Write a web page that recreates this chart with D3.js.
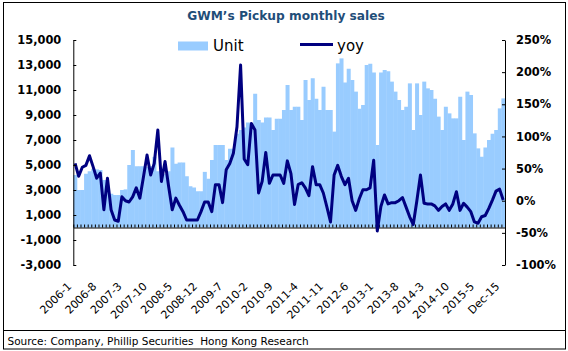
<!DOCTYPE html>
<html>
<head>
<meta charset="utf-8">
<script src="https://cdn.jsdelivr.net/npm/d3@7"></script>
<style>
    body { margin: 0; background: #fff; }
    svg { display: block; }
    text { font-family: "DejaVu Sans", Verdana, sans-serif; }
</style>
</head>
<body>
<div id="chart"></div>
<script>
// monthly pickup sales (units), 2006-1 .. 2015-12
var units = [
    4200, 3000, 3000, 4300, 4500, 4700, 4650, 4600, 3800, 3000, 2700, 2600,
    2600, 3000, 3050, 5000, 6200, 4900, 4900, 4900, 4850, 4900, 5650, 4500,
    4300, 4300, 4500, 6400, 5100, 5200, 5200, 4100, 3300, 3200, 2900, 2900,
    4450, 3900, 5400, 6600, 6600, 6600, 5400, 6300, 6300, 7500, 7800, 8000,
    8400, 8200, 10700, 8600, 8400, 8800, 8800, 7800, 8700, 8700, 9400, 11400,
    9400, 9660, 9660, 8600, 11800, 10200, 11940, 10300, 9400, 11260, 9400, 9400,
    7670, 13130, 13530, 11600, 12700, 11800, 10870, 9500, 9800, 13000, 13100, 12400,
    6600, 12400, 12600, 12500, 11670, 10870, 10200, 9400, 9660, 11530, 7800, 11530,
    9000, 11670, 11130, 11000, 10300, 8870, 7800, 9660, 9130, 8730, 8730, 10460,
    7000, 10870, 10600, 7530, 6330, 5660, 6400, 7000, 7500, 7800, 9530, 10330
]
// year on year growth (%)
var yoy = [
    58, 38, 52, 55, 70, 53, 35, 43, -14, 35, -14, -30,
    -32, 6, 0, -2, 6, 20, 4, 37, 71, 40, 58, 110,
    30, 61, 22, -14, 4, -7, -17, -30, -30, -30, -30, -17,
    -2, -2, -17, 25, 25, -3, 48, 58, 74, 115, 211, 65,
    56, 120, 110, 12, 30, 75, 27, 40, 40, 40, 27, 62,
    42, -6, 25, 28, 20, 8, 53, 25, 25, 12, -10, -33,
    40, 55, 38, 25, 35, 0, -15, 3, 17, 17, 20, 63,
    -47, -9, 9, -5, -3, -3, 0, 5, -10, -25, -37, 0,
    40, -4, -5, -5, -8, -15, -9, -5, -15, -5, 14, -15,
    -4, -10, -17, -33, -35, -25, -23, -12, 1, 15, 18, 1
]
var tickLabels = ['2006-1', '2006-8', '2007-3', '2007-10', '2008-5', '2008-12', '2009-7', '2010-2', '2010-9',
    '2011-4', '2011-11', '2012-6', '2013-1', '2013-8', '2014-3', '2014-10', '2015-5', 'Dec-15']
var tickIndex = [0, 7, 14, 21, 28, 35, 42, 49, 56, 63, 70, 77, 84, 91, 98, 105, 112, 119]
var leftTicks = [-3000, -1000, 1000, 3000, 5000, 7000, 9000, 11000, 13000, 15000]
var rightTicks = [-100, -50, 0, 50, 100, 150, 200, 250]

const plot = { left: 73.3, right: 505, top: 40, bottom: 265 }

var svg = d3.select('#chart').append('svg')
    .attr('width', 568)
    .attr('height', 351)

// outer frame + divider above the source line
svg.append('rect')
    .attr('x', 3.5).attr('y', 2.5).attr('width', 562).attr('height', 346.5)
    .attr('fill', 'none').attr('stroke', '#000')
svg.append('line')
    .attr('x1', 3.5).attr('x2', 565.5).attr('y1', 330.5).attr('y2', 330.5)
    .attr('stroke', '#000')

var x = d3.scaleBand().domain(d3.range(units.length)).range([plot.left, plot.right]).padding(0)
var xLin = d3.scaleLinear().domain([0, units.length]).range([plot.left, plot.right])
var yLeft = d3.scaleLinear().domain([-3000, 15000]).range([plot.bottom, plot.top])
var yRight = d3.scaleLinear().domain([-100, 250]).range([plot.bottom, plot.top])

// bars
svg.append('g').selectAll('rect')
    .data(units)
    .enter()
    .append('rect')
    .attr('x', (d, i) => x(i))
    .attr('width', x.bandwidth() + 0.4)
    .attr('y', d => yLeft(Math.max(0, d)))
    .attr('height', d => Math.abs(yLeft(d) - yLeft(0)))
    .attr('fill', '#99CCFF')

// category axis at zero
var xAxis = d3.axisBottom(xLin).tickValues(d3.range(0, units.length + 1)).tickSize(-3).tickSizeOuter(0).tickFormat('')
svg.append('g')
    .attr('transform', 'translate(0,' + yLeft(0) + ')')
    .call(xAxis)

// yoy line
var line = d3.line()
    .x((d, i) => x(i) + x.bandwidth() / 2)
    .y(d => yRight(d))
svg.append('path')
    .datum(yoy)
    .attr('d', line)
    .attr('fill', 'none')
    .attr('stroke', '#000080')
    .attr('stroke-width', 3)
    .attr('stroke-linejoin', 'round')

// left axis
var fmt = d3.format(',')
var yAxisL = d3.axisLeft(yLeft).tickValues(leftTicks).tickSize(-3).tickSizeOuter(0).tickPadding(12)
    .tickFormat(d => fmt(d).replace('\u2212', '-'))
svg.append('g')
    .attr('transform', 'translate(' + plot.left + ',0)')
    .call(yAxisL)

// right axis
var yAxisR = d3.axisRight(yRight).tickValues(rightTicks).tickSize(-3).tickSizeOuter(0).tickPadding(11)
    .tickFormat(d => String(d).replace('\u2212', '-') + '%')
svg.append('g')
    .attr('transform', 'translate(' + plot.right + ',0)')
    .call(yAxisR)

svg.selectAll('.tick text')
    .attr('font-family', '"DejaVu Sans", sans-serif')
    .attr('font-size', 11.4)
    .attr('font-weight', 'bold')
    .attr('fill', '#000')
svg.selectAll('.domain, .tick line').attr('stroke', '#000')

// rotated category labels
svg.append('g').selectAll('text')
    .data(tickIndex)
    .enter()
    .append('text')
    .attr('text-anchor', 'end')
    .attr('font-size', 11)
    .attr('transform', d => 'translate(' + (x(d) + x.bandwidth() / 2 - 3) + ',287) rotate(-45)')
    .text((d, i) => tickLabels[i])

// title
svg.append('text')
    .attr('x', 286).attr('y', 20)
    .attr('text-anchor', 'middle')
    .attr('font-size', 12.2)
    .attr('font-weight', 'bold')
    .attr('fill', '#1F4E79')
    .text('GWM\u2019s Pickup monthly sales')

// legend
svg.append('rect').attr('x', 178).attr('y', 41.5).attr('width', 30).attr('height', 9).attr('fill', '#99CCFF')
svg.append('text').attr('x', 213).attr('y', 50.5).attr('font-size', 15).text('Unit')
svg.append('line').attr('x1', 300).attr('x2', 333).attr('y1', 44.5).attr('y2', 44.5)
    .attr('stroke', '#000080').attr('stroke-width', 3)
svg.append('text').attr('x', 337).attr('y', 50.5).attr('font-size', 15).text('yoy')

// source
svg.append('text')
    .attr('x', 7.5).attr('y', 345)
    .attr('font-size', 10.5)
    .style('white-space', 'pre')
    .text('Source: Company, Phillip Securities  Hong Kong Research')
</script>
</body>
</html>
